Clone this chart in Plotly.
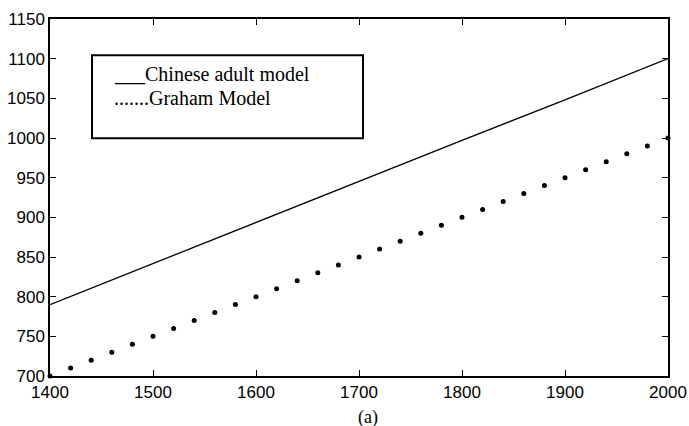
import plotly.graph_objects as go

# Data
line_years = [1400, 1500, 1600, 1700, 1800, 1900, 2000]
chinese_adult = [790, 842, 893, 945, 997, 1048, 1100]

dot_years = [1400, 1420, 1440, 1460, 1480, 1500, 1520, 1540, 1560, 1580,
             1600, 1620, 1640, 1660, 1680, 1700, 1720, 1740, 1760, 1780,
             1800, 1820, 1840, 1860, 1880, 1900, 1920, 1940, 1960, 1980, 2000]
graham = [700, 710, 720, 730, 740, 750, 760, 770, 780, 790,
          800, 810, 820, 830, 840, 850, 860, 870, 880, 890,
          900, 910, 920, 930, 940, 950, 960, 970, 980, 990, 1000]

x_ticks = [1400, 1500, 1600, 1700, 1800, 1900, 2000]
y_ticks = [700, 750, 800, 850, 900, 950, 1000, 1050, 1100, 1150]

legend_lines = ["___Chinese adult model", ".......Graham Model"]
panel_label = "(a)"

fig = go.Figure()
fig.add_trace(go.Scatter(x=line_years, y=chinese_adult, mode="lines",
                         line=dict(color="black", width=1.3), cliponaxis=False,
                         showlegend=False))
fig.add_trace(go.Scatter(x=dot_years, y=graham, mode="markers",
                         marker=dict(color="black", size=5), cliponaxis=False,
                         showlegend=False))

axis_common = dict(showgrid=False, zeroline=False, showline=True, linecolor="black",
                   linewidth=1.5, mirror="ticks", ticks="inside", ticklen=6,
                   tickcolor="black", tickwidth=1, automargin=False,
                   tickfont=dict(family="Liberation Sans, Arial", size=17, color="black"))

fig.update_xaxes(range=[1400, 2000], tickvals=x_ticks, ticktext=[str(v) for v in x_ticks],
                 **axis_common)
fig.update_yaxes(range=[700, 1150], tickvals=y_ticks, ticktext=[str(v) for v in y_ticks],
                 ticklabelstandoff=0, **axis_common)

# Legend box drawn as shape
fig.add_shape(type="rect", xref="paper", yref="paper",
              x0=0.068, x1=0.5065, y0=0.666, y1=0.8987,
              line=dict(color="black", width=2), fillcolor="white", layer="above")

fig.add_annotation(xref="paper", yref="paper", x=0.1003, y=0.845, xanchor="left",
                   yanchor="middle", text=legend_lines[0], showarrow=False,
                   font=dict(family="Liberation Serif, Times New Roman", size=20, color="black"))
fig.add_annotation(xref="paper", yref="paper", x=0.1003, y=0.778, xanchor="left",
                   yanchor="middle", text=legend_lines[1], showarrow=False,
                   font=dict(family="Liberation Serif, Times New Roman", size=20, color="black"))

fig.add_annotation(xref="paper", yref="paper", x=0.5146, y=-0.115, xanchor="center",
                   yanchor="middle", text=panel_label, showarrow=False,
                   font=dict(family="Liberation Serif, Times New Roman", size=18, color="black"))

fig.update_layout(width=689, height=426, margin=dict(l=50, r=21, t=19, b=50),
                  paper_bgcolor="white", plot_bgcolor="white", showlegend=False)

fig.write_html("out.html", config={"displayModeBar": False},
               post_script="document.body.style.margin='0';")
